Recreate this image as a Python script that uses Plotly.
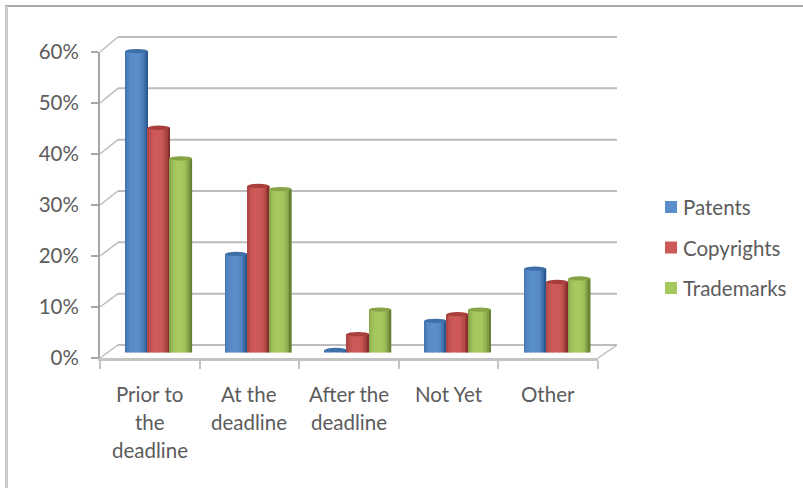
import math
import plotly.graph_objects as go

categories = ["Prior to<br>the<br>deadline", "At the<br>deadline", "After the<br>deadline", "Not Yet", "Other"]
patents = [59, 19.3, 0.5, 6.2, 16.4]
copyrights = [44, 32.6, 3.6, 7.5, 13.8]
trademarks = [38, 32, 8.4, 8.4, 14.5]
y_ticks = [0, 10, 20, 30, 40, 50, 60]

W, H = 803, 488
FONT = "Lato"
FONT_SIZE = 20.5
TEXT = "#5c5c5c"
AXIS = "#a6a6a6"
GRID = "#bcbcbc"

series = [
    ("Patents", patents, "#5a8ecb", "#2f5f98", "#3f6fa8"),
    ("Copyrights", copyrights, "#cd5a58", "#8f3331", "#a83f3c"),
    ("Trademarks", trademarks, "#a6c95f", "#6f8a38", "#86a446"),
]


def px(x):
    return x / W


def py(y):
    return 1 - y / H


# Three depth planes of the pseudo-3D box, in pixels: front, bar row, back
FRONT = dict(left=100, right=598, zero=358, top=52)
ROW = dict(left=109, right=607, zero=352.5, top=46)
BACK = dict(left=118, right=617, zero=345, top=37)


def grid_y(plane, v):
    return plane["zero"] + (plane["top"] - plane["zero"]) * v / 60


fig = go.Figure()

BAR_W = 0.222
STRIPS = 13
CAP = 0.42
strip_w = BAR_W / STRIPS

for s, (name, values, body, edge, cap) in enumerate(series):
    left = -1.5 * BAR_W + s * BAR_W
    for k in range(STRIPS):
        t = (k + 0.5) / STRIPS * 2 - 1
        depth = CAP * math.sqrt(1 - t * t)
        # blend from body colour towards the dark edge near the silhouette
        mix = abs(t + 0.12) ** 3
        rgb = [
            round(int(body[i:i + 2], 16) * (1 - mix) + int(edge[i:i + 2], 16) * mix)
            for i in (1, 3, 5)
        ]
        fig.add_trace(go.Bar(
            x=list(range(len(categories))),
            y=[v + depth for v in values],
            base=[-depth] * len(values),
            width=strip_w * 1.08,
            offset=left + k * strip_w,
            marker=dict(color=f"rgb({rgb[0]},{rgb[1]},{rgb[2]})", line_width=0),
            name=name,
            showlegend=False,
            cliponaxis=False,
            hoverinfo="skip",
        ))
    for i, v in enumerate(values):
        fig.add_shape(
            type="circle", xref="x", yref="y",
            x0=i + left, x1=i + left + BAR_W, y0=v - CAP, y1=v + CAP,
            fillcolor=cap, line_width=0,
        )
    # legend key and label
    key_y = 207 + s * 40.5
    fig.add_shape(type="rect", xref="paper", yref="paper",
                  x0=px(665), x1=px(677), y0=py(key_y - 6), y1=py(key_y + 6),
                  fillcolor=body, line_width=0)
    fig.add_annotation(text=name, xref="paper", yref="paper", x=px(681), y=py(key_y),
                       showarrow=False, xanchor="left", yanchor="middle",
                       font=dict(family=FONT, size=FONT_SIZE, color=TEXT))

# Empty trace so the front axes get drawn
fig.add_trace(go.Scatter(x=[], y=[], xaxis="x2", yaxis="y2", showlegend=False))

# Back-wall gridlines and the diagonals joining them to the front axis
for v in y_ticks:
    yb = grid_y(BACK, v)
    yf = grid_y(FRONT, v)
    fig.add_shape(type="line", xref="paper", yref="paper", layer="below",
                  x0=px(BACK["left"]), x1=px(BACK["right"]), y0=py(yb), y1=py(yb),
                  line=dict(color=GRID, width=2))
    fig.add_shape(type="line", xref="paper", yref="paper", layer="below",
                  x0=px(FRONT["left"]), x1=px(BACK["left"]), y0=py(yf), y1=py(yb),
                  line=dict(color=GRID, width=1.5))
# Right floor edge
fig.add_shape(type="line", xref="paper", yref="paper", layer="below",
              x0=px(FRONT["right"]), x1=px(BACK["right"]),
              y0=py(FRONT["zero"]), y1=py(BACK["zero"]),
              line=dict(color=GRID, width=1.5))
# Light frame along the top and left of the picture
fig.add_shape(type="line", xref="paper", yref="paper", layer="below",
              x0=px(5), x1=1, y0=py(6), y1=py(6), line=dict(color="#a8a8a8", width=2))
fig.add_shape(type="line", xref="paper", yref="paper", layer="below",
              x0=px(6.5), x1=px(6.5), y0=py(6), y1=0, line=dict(color="#cccccc", width=3))

# Category labels, one annotation per line for the wide leading
LINE_GAP = 28
for i, label in enumerate(categories):
    for j, line in enumerate(label.split("<br>")):
        fig.add_annotation(
            text=line, xref="x2", yref="paper", x=i + 0.5, y=py(394 + j * LINE_GAP),
            showarrow=False, xanchor="center", yanchor="middle",
            font=dict(family=FONT, size=FONT_SIZE, color=TEXT),
        )

fig.update_layout(
    width=W, height=H,
    margin=dict(l=0, r=0, t=0, b=0, autoexpand=False),
    paper_bgcolor="white", plot_bgcolor="rgba(0,0,0,0)",
    barmode="overlay",
    showlegend=False,
    font=dict(family=FONT, size=FONT_SIZE, color=TEXT),
    xaxis=dict(domain=[px(ROW["left"]), px(ROW["right"])], range=[-0.5, 4.5], visible=False),
    yaxis=dict(domain=[py(ROW["zero"]), py(ROW["top"])], range=[0, 60], visible=False),
    xaxis2=dict(
        domain=[px(FRONT["left"]), px(FRONT["right"])], range=[0, 5], anchor="y2",
        tickmode="linear", tick0=0, dtick=1, ticks="outside", ticklen=8, tickwidth=2,
        tickcolor="#c4c4c4", showticklabels=False, showgrid=False, zeroline=False,
        showline=True, linecolor="#c4c4c4", linewidth=3,
    ),
    yaxis2=dict(
        domain=[py(FRONT["zero"]), py(FRONT["top"])], range=[0, 60], anchor="x2",
        tickmode="array", tickvals=y_ticks, ticktext=[f"{v}%" for v in y_ticks],
        ticks="outside", ticklen=7, tickwidth=2, tickcolor=AXIS,
        showgrid=False, zeroline=False, showline=True, linecolor=AXIS, linewidth=2,
        tickfont=dict(family=FONT, size=FONT_SIZE, color=TEXT), ticklabelstandoff=8,
    ),
)

fig.write_html("out.html")
